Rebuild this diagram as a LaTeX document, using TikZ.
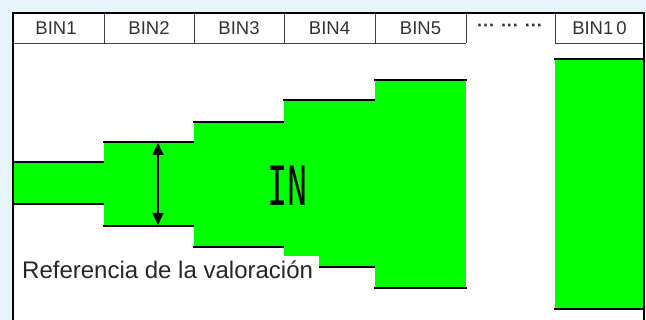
\documentclass[tikz,border=0pt]{standalone}
\usepackage{fontspec}
\setmainfont{Liberation Sans}
\newfontfamily\inmono{Liberation Mono}
\usetikzlibrary{arrows.meta}
\definecolor{pagebg}{RGB}{230,244,251}
\definecolor{bingreen}{RGB}{0,255,0}
\tikzset{binbar/.style={fill=bingreen,draw=none},
  edge/.style={line width=1.6pt,line cap=rect},
  cell/.style={draw=black!75,line width=.8pt},
  binlabel/.style={font=\fontsize{18.5}{18.5}\selectfont,text=black!80},
  span/.style={{Triangle[length=12pt,width=11pt]}-{Triangle[length=12pt,width=11pt]},line width=1.4pt}}

\begin{document}
\begin{tikzpicture}[x=1pt,y=-1pt]
  \path[use as bounding box,fill=pagebg] (0,0) rectangle (646,320);
  \fill[white] (12.5,13) rectangle (644,330);
  % header cells
  \draw[cell] (12.5,43)--(466,43);
  \draw[cell] (555,43)--(644,43);
  \foreach \x in {104,194,284,375,466,555}{\draw[cell] (\x,13)--(\x,43);}
  \foreach \i/\x in {1/56,2/149,3/239,4/329.5,5/420.5}{
    \node[binlabel] (h\i) at (\x,28.5) {BIN\i};}
  \node[binlabel,font=\fontsize{18}{18}\bfseries] (hdots) at (510,28) {···\hspace{6pt}···\hspace{6pt}···};
  \node[binlabel] (h10) at (599.5,28.5) {BIN1\,0};
  % bars
  \foreach \i/\l/\r/\t/\b in {1/12.5/104/162/204,2/104/194/142/226,3/194/284/122/247,
      4/284/375/100/267,5/375/466/80/288,10/555/644/59/309}{
    \fill[binbar] (\l,\t) rectangle (\r,\b);
    \coordinate (t\i) at ({(\l+\r)/2},\t);
    \coordinate (b\i) at ({(\l+\r)/2},\b);
    \draw[edge] (\l,\t)--(\r,\t);
    \draw[edge] (\l,\b)--(\r,\b);}
  \coordinate (a2top) at (158,143);
  \coordinate (a2bot) at (158,225);
  \draw[span] (a2top)--(a2bot);
  \node (in) at (288,186) {\inmono\fontsize{60}{60}\selectfont\scalebox{.56}[1]{IN}};
  \node[fill=white,anchor=base west,inner xsep=6pt,inner ysep=5pt,
    font=\fontsize{24}{24}\selectfont,text=black!85] (ref) at (16,279) {Referencia de la valoración};
  % frame
  \draw[line width=2pt] (12.5,330)--(12.5,13)--(644,13)--(644,330);
\end{tikzpicture}
\end{document}
